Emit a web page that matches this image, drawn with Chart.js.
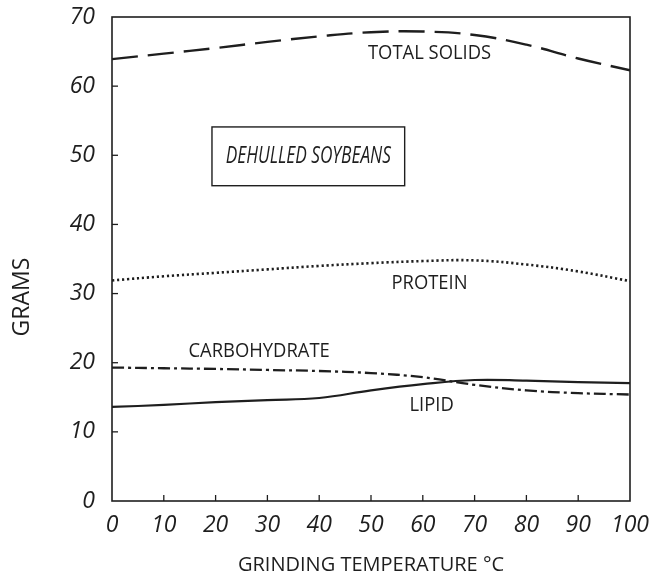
<!DOCTYPE html>
<html><head><meta charset="utf-8">
<script src="https://cdn.jsdelivr.net/npm/chart.js@4"></script>
<style>html,body{margin:0;padding:0;background:#fff}#wrap{width:651px;height:583px}</style>
</head><body><div id="wrap"><canvas id="c"></canvas></div>
<script>
const temperatures = [0,10,20,30,40,50,60,70,80,90,100];
const totalSolids  = [63.9,64.7,65.5,66.4,67.2,67.8,67.9,67.4,66.0,64.0,62.3];
const protein      = [31.9,32.5,33.0,33.5,34.0,34.4,34.7,34.8,34.2,33.2,31.8];
const carbohydrate = [19.3,19.2,19.1,18.95,18.8,18.5,17.9,16.8,16.0,15.6,15.4];
const lipid        = [13.6,13.9,14.3,14.6,14.9,16.0,16.9,17.5,17.4,17.2,17.05];
const yTicks = [0,10,20,30,40,50,60,70];
const xTicks = [0,10,20,30,40,50,60,70,80,90,100];

const pts = arr => temperatures.map((t,i)=>({x:t,y:arr[i]}));
const ink = '#1e1e1e';
const FONT = "'Open Sans', 'DejaVu Sans', sans-serif";

function condensedText(ctx, text, cx, cy, sx){
  ctx.save(); ctx.translate(cx, cy); ctx.scale(sx, 1); ctx.fillText(text, 0, 0); ctx.restore();
}

const annot = {
  id:'annot',
  afterDraw(chart){
    const {ctx, chartArea:a, scales:{x,y}} = chart;
    ctx.save();
    ctx.strokeStyle = ink; ctx.lineWidth = 1.6;
    ctx.strokeRect(a.left, a.top, a.right-a.left, a.bottom-a.top);
    ctx.lineWidth = 1.3;
    xTicks.forEach(v=>{ if(v===0||v===100) return; const px=x.getPixelForValue(v); ctx.beginPath(); ctx.moveTo(px,a.bottom); ctx.lineTo(px,a.bottom-6); ctx.stroke(); });
    yTicks.forEach(v=>{ if(v===0||v===70) return; const py=y.getPixelForValue(v); ctx.beginPath(); ctx.moveTo(a.left,py); ctx.lineTo(a.left+6,py); ctx.stroke(); });
    ctx.fillStyle = ink;
    ctx.textAlign='center'; ctx.textBaseline='middle';
    ctx.font = "20px "+FONT;
    condensedText(ctx,'TOTAL SOLIDS', x.getPixelForValue(61.3), y.getPixelForValue(64.7), 0.92);
    condensedText(ctx,'PROTEIN', x.getPixelForValue(61.3), y.getPixelForValue(31.5), 0.92);
    condensedText(ctx,'CARBOHYDRATE', x.getPixelForValue(28.4), y.getPixelForValue(21.6), 0.92);
    condensedText(ctx,'LIPID', x.getPixelForValue(61.7), y.getPixelForValue(13.9), 0.92);
    // box
    const bl=x.getPixelForValue(19.3), br=x.getPixelForValue(56.5), bt=y.getPixelForValue(54.1), bb=y.getPixelForValue(45.6);
    ctx.lineWidth=1.4; ctx.strokeRect(bl,bt,br-bl,bb-bt);
    ctx.font = "italic 24px "+FONT;
    condensedText(ctx,'DEHULLED SOYBEANS', (bl+br)/2, (bt+bb)/2, 0.72);
    // y title
    ctx.save();
    ctx.translate(22, y.getPixelForValue(29.5)); ctx.rotate(-Math.PI/2);
    ctx.font = "23px "+FONT; ctx.fillText('GRAMS', 0, 0);
    ctx.restore();
    ctx.restore();
  }
};

new Chart(document.getElementById('c'), {
  type:'line',
  data:{datasets:[
    {label:'TOTAL SOLIDS', data:pts(totalSolids), borderColor:ink, borderWidth:2.4, borderDash:[26,10], pointRadius:0, tension:0.4, fill:false},
    {label:'PROTEIN', data:pts(protein), borderColor:ink, borderWidth:2.6, borderDash:[2.2,2.8], pointRadius:0, tension:0.4, fill:false},
    {label:'CARBOHYDRATE', data:pts(carbohydrate), borderColor:ink, borderWidth:2.3, borderDash:[12,4,3,4], pointRadius:0, tension:0.4, fill:false},
    {label:'LIPID', data:pts(lipid), borderColor:ink, borderWidth:2.2, pointRadius:0, tension:0.4, fill:false}
  ]},
  options:{
    responsive:true, maintainAspectRatio:false, animation:false,
    layout:{padding:{left:0,right:21,top:17,bottom:0}},
    plugins:{legend:{display:false}, tooltip:{enabled:false}},
    scales:{
      x:{type:'linear', min:0, max:100,
        afterBuildTicks: s => { s.ticks = xTicks.map(v=>({value:v})); },
        afterFit: s => { s.height = 82; s.paddingRight = 0; s.paddingLeft = 0; },
        grid:{display:false, drawTicks:false}, border:{display:false},
        ticks:{padding:11, color:ink, font:{family:FONT, size:23, style:'italic'}, maxRotation:0, autoSkip:false},
        title:{display:true, text:'GRINDING TEMPERATURE °C', color:ink, padding:{top:0,bottom:6}, font:{family:FONT, size:20}}
      },
      y:{min:0, max:70,
        afterBuildTicks: s => { s.ticks = yTicks.map(v=>({value:v})); },
        afterFit: s => { s.width = 112; s.paddingTop = 0; s.paddingBottom = 0; },
        grid:{display:false, drawTicks:false}, border:{display:false},
        ticks:{padding:17, color:ink, font:{family:FONT, size:23, style:'italic'}}
      }
    }
  },
  plugins:[annot]
});
</script></body></html>
